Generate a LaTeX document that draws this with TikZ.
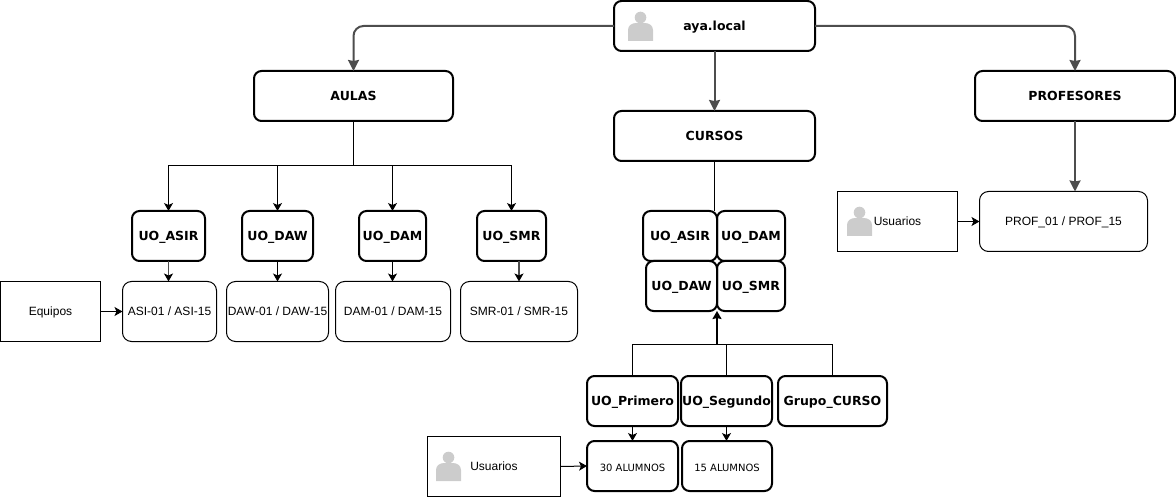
\documentclass[tikz,border=0pt]{standalone}
\usepackage{fontspec}
\setmainfont{Liberation Sans}
\newfontfamily\boldface{DejaVu Sans Bold}
\newfontfamily\smallface{DejaVu Sans}
\usetikzlibrary{arrows.meta}
\definecolor{linegray}{HTML}{4D4D4D}
\definecolor{icongray}{HTML}{CCCCCC}
\tikzset{
    ou/.style={draw=black, line width=2pt, rounded corners=7.5pt, inner sep=0pt, outer sep=0pt,
        minimum height=50pt, text height=9.8pt, text depth=0.2pt, font=\boldface\fontsize{12.5}{14}\selectfont},
    host/.style={draw=black, line width=1pt, rounded corners=9pt, inner sep=0pt, outer sep=0pt,
        minimum height=60pt, text height=9pt, text depth=1pt, font=\fontsize{12}{14}\selectfont},
    group/.style={ou, text height=10pt, text depth=0pt, font=\smallface\fontsize{10}{12}\selectfont},
    source/.style={draw=black, line width=1pt, inner sep=0pt, outer sep=0pt,
        minimum height=60pt, text height=9pt, text depth=1pt, font=\fontsize{12}{14}\selectfont},
    bigarrow/.style={draw=linegray, line width=2pt, rounded corners=10pt, -{Stealth[length=11pt,width=11pt,inset=1pt]}},
    thinarrow/.style={draw=black, line width=1pt, -{Stealth[length=8pt,width=9pt,inset=2pt]}},
    grayarrow/.style={draw=linegray, line width=1.5pt, -{Stealth[length=8pt,width=9pt,inset=2pt,black]}},
    thinline/.style={draw=black, line width=1pt},
    person/.pic={
        \fill[icongray] (0,-8.5) circle (5.8pt);
        \fill[icongray] (-12.5,15) -- (-12.5,4) .. controls (-12.5,-1) and (-8,-3) .. (-4,-3) -- (4,-3)
            .. controls (8,-3) and (12.5,-1) .. (12.5,4) -- (12.5,15) -- cycle;
    }
}
\begin{document}
\begin{tikzpicture}[x=1pt,y=-1pt]
    \useasboundingbox (0,0) rectangle (1176,497);

    % Top level
    \node[ou, minimum width=201pt] (aya) at (714.5,26) {aya.local};
    \node[ou, minimum width=199pt] (aulas) at (353.5,96) {AULAS};
    \node[ou, minimum width=201pt] (cursos) at (714.5,136) {CURSOS};
    \node[ou, minimum width=200pt] (profesores) at (1075,96) {PROFESORES};
    \pic at (640.5,26) {person};

    \draw[bigarrow] (aya.west) -| (aulas.north);
    \draw[bigarrow] (aya.south) -- (cursos.north);
    \draw[bigarrow] (aya.east) -| (profesores.north);

    % Aulas
    \node[ou, minimum width=73pt] (uoasir) at (168.5,236) {UO\_ASIR};
    \node[ou, minimum width=71pt] (uodaw) at (277.5,236) {UO\_DAW};
    \node[ou, minimum width=67pt] (uodam) at (392.5,236) {UO\_DAM};
    \node[ou, minimum width=69pt] (uosmr) at (511.5,236) {UO\_SMR};
    \node[host, minimum width=94pt] (asi) at (169.5,311.5) {ASI-01 / ASI-15};
    \node[host, minimum width=102pt] (daw) at (277.5,311.5) {DAW-01 / DAW-15};
    \node[host, minimum width=115pt] (dam) at (393,311.5) {DAM-01 / DAM-15};
    \node[host, minimum width=117pt] (smr) at (519,311.5) {SMR-01 / SMR-15};
    \node[source, minimum width=100pt] (equipos) at (50.5,311.5) {Equipos};

    \coordinate (aulasbus) at (353.5,166);
    \draw[thinline] (aulas.south) -- (aulasbus);
    \draw[thinarrow] (aulasbus) -| (uoasir.north);
    \draw[thinarrow] (aulasbus) -| (uodaw.north);
    \draw[thinarrow] (aulasbus) -| (uodam.north);
    \draw[thinarrow] (aulasbus) -| (uosmr.north);
    \draw[grayarrow] (uoasir.south) -- (uoasir.south |- asi.north);
    \draw[thinarrow] (uodaw.south) -- (uodaw.south |- daw.north);
    \draw[thinarrow] (uodam.south) -- (uodam.south |- dam.north);
    \draw[grayarrow] (smr.north |- uosmr.south) -- (smr.north);
    \draw[thinarrow] (equipos.east) -- (asi.west);

    % Cursos
    \node[ou, minimum width=74pt] (cuasir) at (680,236) {UO\_ASIR};
    \node[ou, minimum width=68pt] (cudam) at (751,236) {UO\_DAM};
    \node[ou, minimum width=71pt] (cudaw) at (681.5,286) {UO\_DAW};
    \node[ou, minimum width=68pt] (cusmr) at (751,286) {UO\_SMR};
    \node[ou, minimum width=91pt] (primero) at (632.5,401) {UO\_Primero};
    \node[ou, minimum width=91pt] (segundo) at (726.5,401) {UO\_Segundo};
    \node[ou, minimum width=109pt] (grupo) at (832.5,401) {Grupo\_CURSO};
    \node[group, minimum width=91pt] (alumnos30) at (632.5,466) {30 ALUMNOS};
    \node[group, minimum width=90pt] (alumnos15) at (727,466) {15 ALUMNOS};
    \node[source, minimum width=133pt] (usuarios1) at (494,466.5) {Usuarios};
    \pic at (448.5,466) {person};

    \coordinate (cursostop) at (714.5,211);
    \coordinate (cursosbus) at (717,344.5);
    \draw[thinline] (cursos.south) -- (cursostop);
    \draw[thinline] (primero.north) |- (cursosbus);
    \draw[thinline] (segundo.north) |- (cursosbus);
    \draw[thinline] (grupo.north) |- (cursosbus);
    \draw[draw=black, line width=2pt, -{Stealth[length=8pt,width=9pt,inset=1pt]}] (cursosbus) -- (cusmr.south west);
    \draw[thinarrow] (primero.south) -- (primero.south |- alumnos30.north);
    \draw[thinarrow] (segundo.south) -- (segundo.south |- alumnos15.north);
    \draw[thinarrow] (usuarios1.east) -- (alumnos30.west);

    % Profesores
    \node[host, minimum width=168pt] (prof) at (1063.5,221.5) {PROF\_01 / PROF\_15};
    \node[source, minimum width=120pt] (usuarios2) at (897.5,221.5) {Usuarios};
    \pic at (859.5,221) {person};

    \draw[bigarrow] (profesores.south) -- (profesores.south |- prof.north);
    \draw[thinarrow] (usuarios2.east) -- (prof.west);
\end{tikzpicture}
\end{document}
